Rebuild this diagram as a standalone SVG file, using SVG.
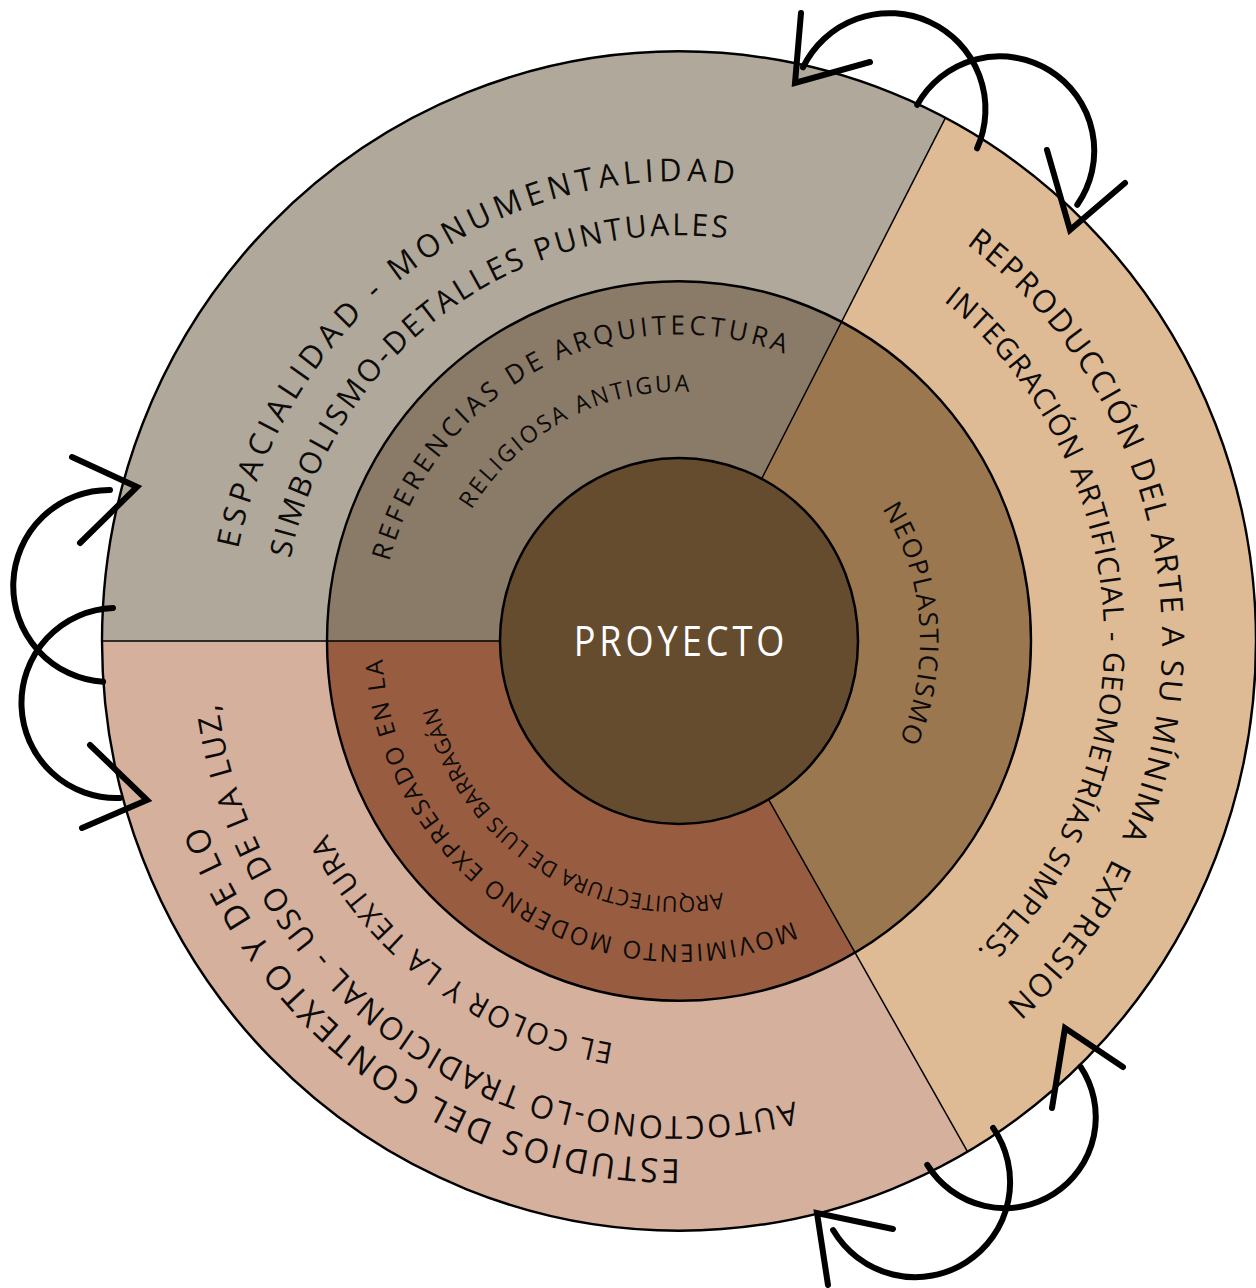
<svg xmlns="http://www.w3.org/2000/svg" width="1256" height="1288" viewBox="0 0 1256 1288">
  <defs>
    <style>
      .lbl { font-family: "Open Sans", "Liberation Sans", sans-serif; fill: #0d0b09; }
      .core { font-family: "Open Sans", "Liberation Sans", sans-serif; fill: #ffffff; }
      .ring { fill: none; stroke: #000; stroke-width: 2.4; }
      .divider { stroke: #000; stroke-width: 1.5; }
      .loop { fill: none; stroke: #000; stroke-width: 6; stroke-linecap: round; }
      .head { fill: none; stroke: #000; stroke-width: 6; stroke-linecap: round; stroke-linejoin: miter; stroke-miterlimit: 12; }
    </style>
    <!-- baseline arcs for the curved labels (local polar frame, clockwise) -->
    <path id="p1" d="M-440.96,-89.72 A450,450 0 0 1 131.57,-430.34"/>
    <path id="p2" d="M-388.75,-80.51 A397,397 0 0 1 116.07,-379.65"/>
    <path id="p3" d="M-289.78,-77.65 A300,300 0 0 1 150,-259.81"/>
    <path id="p4" d="M-207.60,-128.21 A244,244 0 0 1 63.15,-235.69"/>
    <path id="p5" d="M287.30,-388.26 A483,483 0 0 1 277.04,395.65"/>
    <path id="p6" d="M264.57,-332.61 A425,425 0 0 1 243.77,348.14"/>
    <path id="p7" d="M203.26,-129.49 A241,241 0 0 1 197.42,138.23"/>
    <path id="p8" d="M0.88,507 A507,507 0 0 1 -499.3,88.04"/>
    <path id="p9" d="M115.64,450.39 A465,465 0 0 1 -464.72,-16.23"/>
    <path id="p10" d="M-65.17,393.64 A399,399 0 0 1 -385.4,103.27"/>
    <path id="p11" d="M114.14,274.19 A297,297 0 0 1 -294.11,-41.33"/>
    <path id="p12" d="M43.41,246.2 A250,250 0 0 1 -249.05,21.79"/>
  </defs>

  <rect width="1256" height="1288" fill="#ffffff"/>

  <g transform="translate(679,641) scale(1,1.022)">
    <!-- outer ring -->
    <g id="espacialidad">
      <path d="M0,0 L-577,0 A577,577 0 0 1 266.43,-511.8 Z" fill="#b0a89b"/>
      <text class="lbl" font-size="31"><textPath href="#p1" textLength="671.5" lengthAdjust="spacing">ESPACIALIDAD - MONUMENTALIDAD</textPath></text>
      <text class="lbl" font-size="30"><textPath href="#p2" textLength="590.3" lengthAdjust="spacing">SIMBOLISMO-DETALLES PUNTUALES</textPath></text>
    </g>
    <g id="reproduccion">
      <path d="M0,0 L266.43,-511.8 A577,577 0 0 1 288.5,499.7 Z" fill="#dfbb95"/>
      <text class="lbl" font-size="31" style="white-space:pre"><textPath href="#p5" textLength="850.6" lengthAdjust="spacing">REPRODUCCIÓN DEL ARTE A SU MÍNIMA  EXPRESION</textPath></text>
      <text class="lbl" font-size="29"><textPath href="#p6" textLength="719.5" lengthAdjust="spacing">INTEGRACIÓN ARTIFICIAL - GEOMETRÍAS SIMPLES.</textPath></text>
    </g>
    <g id="estudios">
      <path d="M0,0 L288.5,499.7 A577,577 0 0 1 -577,0 Z" fill="#d5b09d"/>
      <text class="lbl" font-size="33"><textPath href="#p8" textLength="613.2" lengthAdjust="spacing">ESTUDIOS DEL CONTEXTO Y DE LO</textPath></text>
      <text class="lbl" font-size="31"><textPath href="#p9" textLength="785.6" lengthAdjust="spacing">AUTOCTONO-LO TRADICIONAL - USO DE LA LUZ,</textPath></text>
      <text class="lbl" font-size="29"><textPath href="#p10" textLength="364.9" lengthAdjust="spacing">EL COLOR Y LA TEXTURA</textPath></text>
    </g>

    <!-- middle ring -->
    <g id="referencias">
      <path d="M0,0 L-352,0 A352,352 0 0 1 162.54,-312.23 Z" fill="#8a7a68"/>
      <text class="lbl" font-size="26"><textPath href="#p3" textLength="500" lengthAdjust="spacing">REFERENCIAS DE ARQUITECTURA</textPath></text>
      <text class="lbl" font-size="23"><textPath href="#p4" textLength="258.5" lengthAdjust="spacing">RELIGIOSA ANTIGUA</textPath></text>
    </g>
    <g id="neoplasticismo">
      <path d="M0,0 L162.54,-312.23 A352,352 0 0 1 176,304.84 Z" fill="#9b774f"/>
      <text class="lbl" font-size="26"><textPath href="#p7" textLength="236.8" lengthAdjust="spacing">NEOPLASTICISMO</textPath></text>
    </g>
    <g id="movimiento">
      <path d="M0,0 L176,304.84 A352,352 0 0 1 -352,0 Z" fill="#985c40"/>
      <text class="lbl" font-size="24"><textPath href="#p11" textLength="565.5" lengthAdjust="spacing">MOVIMIENTO MODERNO EXPRESADO EN LA</textPath></text>
      <text class="lbl" font-size="21.5"><textPath href="#p12" textLength="371.3" lengthAdjust="spacing">ARQUITECTURA DE LUIS BARRAGÁN</textPath></text>
    </g>

    <!-- outlines and sector dividers -->
    <g id="outlines">
      <line class="divider" x1="-179" y1="0" x2="-577" y2="0"/>
      <line class="divider" x1="82.65" y1="-158.77" x2="266.43" y2="-511.8"/>
      <line class="divider" x1="89.5" y1="155.02" x2="288.5" y2="499.7"/>
      <circle class="ring" r="577"/>
      <circle class="ring" r="352" stroke-width="2"/>
    </g>

    <g id="proyecto">
      <circle r="179" fill="#654c2f" stroke="#000" stroke-width="2.5"/>
    </g>
  </g>
  <!-- centre title: slightly condensed glyphs, spread to full width -->
  <text class="core" transform="translate(679,656) scale(0.86,1)" x="0" y="0" font-size="42" text-anchor="middle" textLength="245" lengthAdjust="spacing">PROYECTO</text>

  <!-- looping arrows around the rim -->
  <g id="connectors">
    <path class="loop" d="M977.1,148.3 A96,96 0 0 0 803,67.4"/>
    <path class="head" d="M801,13 L795,83 L870,62"/>
    <path class="loop" d="M917.2,104.8 A94.5,94.5 0 1 1 1077.3,204.8"/>
    <path class="head" d="M1047,150 L1070,230 L1125,183"/>
    <path class="loop" d="M103.1,681.8 A96,96 0 0 1 110,490"/>
    <path class="head" d="M72,457 L137,487 L80,543"/>
    <path class="loop" d="M113,608 A95,95 0 0 0 120,798"/>
    <path class="head" d="M90,745 L147,800 L82,828"/>
    <path class="loop" d="M993.1,1127.9 A95,95 0 1 1 833.1,1230.1"/>
    <path class="head" d="M893,1229 L817,1213 L828,1285"/>
    <path class="loop" d="M927.3,1164.9 A91,91 0 1 0 1080.5,1066.7"/>
    <path class="head" d="M1052,1108 L1065,1028 L1123,1067"/>
  </g>
</svg>
